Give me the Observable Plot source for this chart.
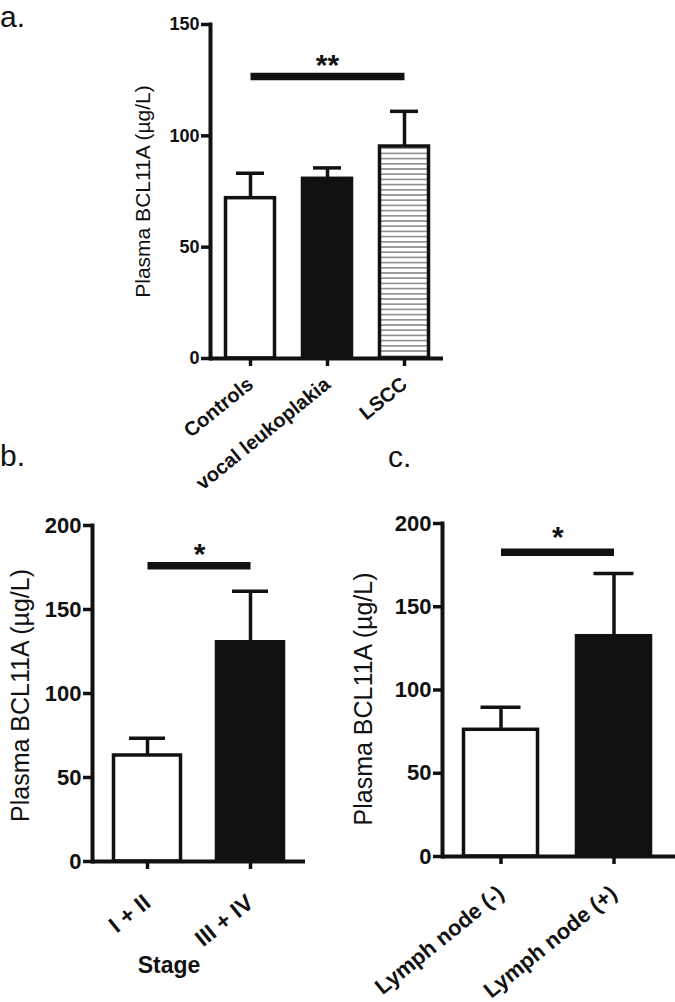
<!DOCTYPE html>
<html><head><meta charset="utf-8">
<script src="https://cdn.jsdelivr.net/npm/d3@7"></script>
<script src="https://cdn.jsdelivr.net/npm/@observablehq/plot@0.6"></script>
<style>
html,body{margin:0;padding:0;background:#fff;}
body{width:675px;height:1002px;overflow:hidden;position:relative;font-family:"Liberation Sans",Arial,sans-serif;color:#111;}
.panel{position:absolute;}
.panel svg{overflow:visible;}
.lab{position:absolute;font-size:30px;line-height:34px;color:#111;}
</style></head><body>
<div class="lab" style="left:0;top:0">a.</div>
<div class="lab" style="left:0;top:439px">b.</div>
<div class="lab" style="left:388px;top:440px">c.</div>
<div class="panel" id="pa" style="left:0;top:0"></div>
<div class="panel" id="pb" style="left:0;top:500px"></div>
<div class="panel" id="pc" style="left:335px;top:500px"></div>
<script>
// ---- data ----
const yLabel = "Plasma BCL11A (µg/L)";

const groupsA = ["Controls", "vocal leukoplakia", "LSCC"];
const meansA = [72, 80.7, 95.2];
const semA = [11.2, 4.9, 15.8];
const ticksA = [0, 50, 100, 150];
const sigA = {from: "Controls", to: "LSCC", y: 126.6, starY: 131.5, label: "**"};

const groupsB = ["I + II", "III + IV"];
const meansB = [63.1, 130.5];
const semB = [10.3, 30.4];
const ticksB = [0, 50, 100, 150, 200];
const sigB = {from: "I + II", to: "III + IV", y: 176, starY: 182.7, label: "*"};
const xLabelB = "Stage";

const groupsC = ["Lymph node (-)", "Lymph node (+)"];
const meansC = [76.1, 132.3];
const semC = [13.6, 37.7];
const ticksC = [0, 50, 100, 150, 200];
const sigC = {from: "Lymph node (-)", to: "Lymph node (+)", y: 182.8, starY: 191.5, label: "*"};

// ---- drawing ----
const INK = "#111";
function drawPanel(o) {
  const data = o.groups.map((g, i) => ({g, m: o.means[i], e: o.means[i] + o.sems[i], f: o.fills[i]}));
  const n = o.groups.length;
  const step = (o.range[1] - o.range[0]) / (n - o.pad);
  const span = o.groups.indexOf(o.sig.to) - o.groups.indexOf(o.sig.from);
  const marks = [
    Plot.barY(data, {x: "g", y: "m", fill: "f", stroke: INK, strokeWidth: 3.5, insetLeft: 1.5, insetRight: 1.5}),
    Plot.ruleX(data, {x: "g", y1: "m", y2: "e", stroke: INK, strokeWidth: 3.5}),
    Plot.tickY(data, {x: "g", y: "e", stroke: INK, strokeWidth: 3.5, inset: o.capInset}),
    Plot.ruleY([0], {stroke: INK, strokeWidth: 4}),
    Plot.frame({anchor: "left", stroke: INK, strokeWidth: 4}),
    Plot.axisY({ticks: o.ticks, tickSize: 9, tickPadding: 2, fontSize: o.yTickFont, strokeWidth: 3.5, stroke: INK}),
    Plot.axisX({tickRotate: -39, tickSize: 8, tickPadding: o.xPad, fontSize: o.xTickFont, strokeWidth: 3.5, stroke: INK}),
    Plot.link([o.sig], {x1: d => d.from, x2: d => d.to, y1: d => d.y, y2: d => d.y, stroke: INK, strokeWidth: 7.5}),
    Plot.text([o.sig], {x: d => d.from, y: d => d.starY, text: d => d.label, dx: span / 2 * step, fontSize: 30, fontWeight: "bold"}),
    Plot.text([yLabel], {frameAnchor: "left", textAnchor: "middle", rotate: -90, dx: o.yLabDx, dy: o.yLabDy, fontSize: o.yLabFont, fontWeight: "normal"})
  ];
  if (o.xLabel) marks.push(Plot.text([o.xLabel], {frameAnchor: "bottom", textAnchor: "middle", dx: o.xLabDx, dy: o.xLabDy, fontSize: 23, fontWeight: "bold"}));
  return Plot.plot({
    width: o.width, height: o.height,
    marginLeft: o.ml, marginRight: o.mr, marginTop: o.mt, marginBottom: o.mb,
    style: {fontFamily: "'Liberation Sans', Arial, sans-serif", fontWeight: "bold", color: INK, background: "transparent", overflow: "visible"},
    x: {type: "band", domain: o.groups, range: o.range, paddingInner: o.pad, paddingOuter: 0, label: null, axis: null},
    y: {domain: o.domain, label: null, axis: null},
    color: {type: "identity"},
    marks
  });
}

const a = drawPanel({
  groups: groupsA, means: meansA, sems: semA, ticks: ticksA, domain: [0, 150], sig: sigA,
  fills: ["white", INK, "url(#stripes)"],
  width: 470, height: 490, ml: 210, mr: 27, mt: 24, mb: 132,
  range: [224, 430], pad: 0.325, capInset: 12,
  yTickFont: 18, xTickFont: 20, xPad: 15, yLabFont: 21, yLabDx: -67, yLabDy: 0
});
const defs = d3.select(a).insert("defs", ":first-child");
const pat = defs.append("pattern").attr("id", "stripes").attr("patternUnits", "userSpaceOnUse").attr("width", 8).attr("height", 5.2);
pat.append("rect").attr("width", 8).attr("height", 5.2).attr("fill", "white");
pat.append("line").attr("x1", 0).attr("x2", 8).attr("y1", 2.6).attr("y2", 2.6).attr("stroke", "#7a7a7a").attr("stroke-width", 1.4);
document.getElementById("pa").append(a);

document.getElementById("pb").append(drawPanel({
  groups: groupsB, means: meansB, sems: semB, ticks: ticksB, domain: [0, 200], sig: sigB,
  fills: ["white", INK], xLabel: xLabelB, xLabDx: -30, xLabDy: 111,
  width: 335, height: 500, ml: 92, mr: 30, mt: 25, mb: 139,
  range: [111.5, 286.5], pad: 0.317, capInset: 17,
  yTickFont: 22, xTickFont: 23, xPad: 30, yLabFont: 25, yLabDx: -72, yLabDy: 2
}));

document.getElementById("pc").append(drawPanel({
  groups: groupsC, means: meansC, sems: semC, ticks: ticksC, domain: [0, 200], sig: sigC,
  fills: ["white", INK],
  width: 340, height: 500, ml: 107, mr: 0, mt: 23, mb: 144,
  range: [126, 317], pad: 0.32, capInset: 18.5,
  yTickFont: 22, xTickFont: 22, xPad: 26, yLabFont: 25, yLabDx: -79, yLabDy: 9
}));
</script>
</body></html>
